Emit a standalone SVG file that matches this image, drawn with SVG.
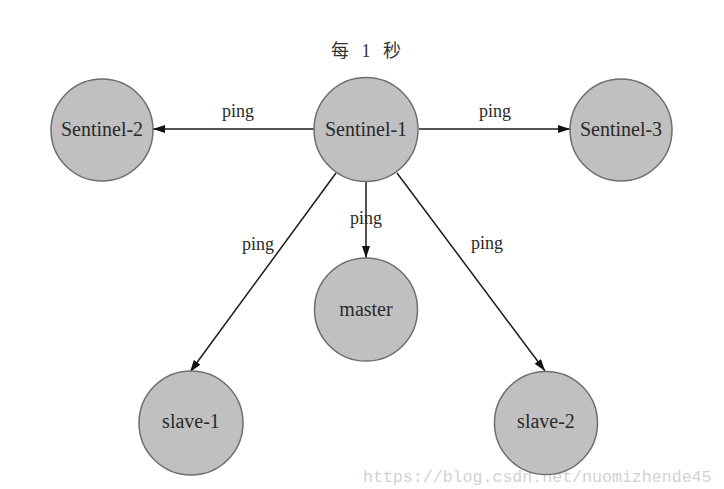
<svg xmlns="http://www.w3.org/2000/svg" width="724" height="489" viewBox="0 0 724 489">
<style>
.node circle{fill:#c0c0c0;stroke:#6e6e6e;stroke-width:1.5}
.node text{font-family:'Liberation Serif','Times New Roman','DejaVu Serif',serif;font-size:20px;fill:#2a2a2a;text-anchor:middle}
.edge{stroke:#1a1a1a;stroke-width:1.5;fill:none;marker-end:url(#arr)}
.lbl{font-family:'Liberation Serif','Times New Roman','DejaVu Serif',serif;font-size:18px;fill:#2a2a2a;text-anchor:middle}
.title{font-family:'Liberation Serif','Noto Sans CJK SC',serif;font-size:18px;fill:#333;text-anchor:middle;letter-spacing:4px}
.wm{font-family:'Liberation Mono',monospace;font-size:16.6px;fill:#d2d2d2}
</style>
<defs>
<marker id="arr" viewBox="0 0 12 8" refX="12" refY="4" markerWidth="12" markerHeight="8" markerUnits="userSpaceOnUse" orient="auto">
<path d="M0,0 L12,4 L0,8 Z" fill="#111"/>
</marker>
</defs>
<rect width="724" height="489" fill="#fff"/>
<text class="wm" x="363" y="482">https://blog.csdn.net/nuomizhende45</text>
<text class="title" x="368" y="57">每 1 秒</text>
<g id="connectors">
<line class="edge" x1="314" y1="129" x2="153" y2="129"/>
<line class="edge" x1="419" y1="129" x2="570" y2="129"/>
<line class="edge" x1="366" y1="181" x2="366" y2="258"/>
<line class="edge" x1="336" y1="173" x2="190" y2="372"/>
<line class="edge" x1="397" y1="173" x2="545" y2="371"/>
<text class="lbl" x="238" y="117">ping</text>
<text class="lbl" x="495" y="117">ping</text>
<text class="lbl" x="366" y="224">ping</text>
<text class="lbl" x="258" y="250">ping</text>
<text class="lbl" x="487" y="249">ping</text>
</g>
<g id="sentinel-1" class="node"><circle cx="366" cy="129.5" r="52"/><text x="366" y="136">Sentinel-1</text></g>
<g id="sentinel-2" class="node"><circle cx="102" cy="130" r="51"/><text x="102" y="136">Sentinel-2</text></g>
<g id="sentinel-3" class="node"><circle cx="621" cy="130" r="51"/><text x="621" y="136">Sentinel-3</text></g>
<g id="master" class="node"><circle cx="366" cy="309.5" r="51.5"/><text x="366" y="316">master</text></g>
<g id="slave-1" class="node"><circle cx="191" cy="423" r="52"/><text x="191" y="428">slave-1</text></g>
<g id="slave-2" class="node"><circle cx="546" cy="423" r="51.5"/><text x="546" y="428">slave-2</text></g>
</svg>
